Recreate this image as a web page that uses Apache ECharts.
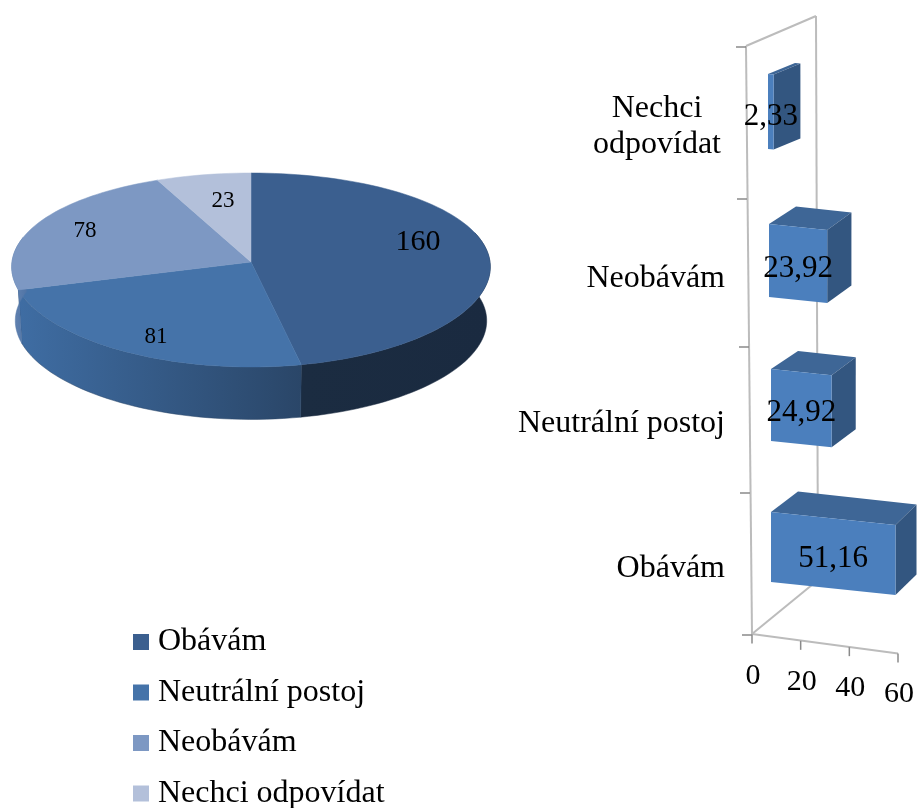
<!DOCTYPE html>
<html>
<head>
<meta charset="utf-8">
<title>Obávám</title>
<script src="https://cdn.jsdelivr.net/npm/echarts@6/dist/echarts.min.js"></script>
<style>
  html, body { margin: 0; padding: 0; background: #fff; }
  #chart { width: 917px; height: 808px; }
</style>
</head>
<body>
<div id="chart"></div>
<script>
const categories = ['Obávám', 'Neutrální postoj', 'Neobávám', 'Nechci odpovídat'];
const pieValues = [160, 81, 78, 23];
const barValues = [51.16, 24.92, 23.92, 2.33];
const xTicks = [0, 20, 40, 60];

const FONT = '"Liberation Serif", "Times New Roman", serif';

// pie look
const pieColors = ['#3b5f8f', '#4573a9', '#7d98c3', '#b3c0da'];
const pieSides = [
    ['#1a2a40', '#1b2c41'],
    ['#2a4668', '#3f6da3'],
    ['#4f74a6', '#6685b2'],
    ['#8e9bb5', '#8e9bb5']
];
const pieLabelPos = [[418, 242], [156, 337], [85, 231], [223, 201]];
const pieLabelSize = [30, 23, 23, 23];
const total = pieValues.reduce((a, b) => a + b, 0);

// circle on the table -> screen, near edge a bit larger
function piePoint(deg, depth) {
    const t = deg * Math.PI / 180;
    const u = Math.sin(t), v = -Math.cos(t);
    const s = depth ? 0.985 : 1;
    return [
        251 + 239 * s * u * (1 + 0.05 * v),
        262 + (depth || 0) + 97 * s * v * (1 + 0.0825 * v)
    ];
}

function arc(from, to, depth) {
    const pts = [];
    const n = Math.max(2, Math.ceil(Math.abs(to - from) / 2));
    for (let i = 0; i <= n; i++) {
        pts.push(piePoint(from + (to - from) * i / n, depth));
    }
    return pts;
}

function renderSlice(idx) {
    return function (params, api) {
        const start = pieValues.slice(0, idx).reduce((a, b) => a + b, 0) / total * 360;
        const end = start + api.value(0) / total * 360;
        const children = [];

        const a = Math.max(start, 72), b = Math.min(end, 285);
        if (b > a) {
            const top = arc(a, b, 0);
            const bottom = arc(b, a, 54);
            children.push({
                type: 'polygon',
                shape: { points: top.concat(bottom) },
                style: {
                    fill: new echarts.graphic.LinearGradient(0, 0, 1, 0, [
                        { offset: 0, color: pieSides[idx][1] },
                        { offset: 1, color: pieSides[idx][0] }
                    ]),
                    stroke: pieSides[idx][0],
                    lineWidth: 0.5
                }
            });
        }

        const face = [[251, 262]].concat(arc(start, end, 0));
        children.push({
            type: 'polygon',
            shape: { points: face },
            style: { fill: pieColors[idx], stroke: pieColors[idx], lineWidth: 0.5 }
        });
        children.push({
            type: 'text',
            x: pieLabelPos[idx][0],
            y: pieLabelPos[idx][1],
            style: {
                text: String(api.value(0)),
                fontFamily: FONT,
                fontSize: pieLabelSize[idx],
                fill: '#000',
                align: 'center',
                verticalAlign: 'middle'
            }
        });
        return { type: 'group', children: children };
    };
}

// bar box tweaks per row (perspective of the original)
const rowShiftX = [0, 0, -2, -3];
const rowShiftY = [0, 3, 3.5, -0.5];
const rowHeight = [70, 72, 73, 75];
const rowDepthY = [-20.5, -18, -17.5, -11];
const SKEW = 0.105;

function renderBar(params, api) {
    const row = api.value(1);
    const p0 = api.coord([0, row]);
    const p1 = api.coord([api.value(0), row]);
    const w = p1[0] - p0[0];
    const h = rowHeight[row];
    const xl = p0[0] + rowShiftX[row];
    const xr = xl + w;
    const yt = p0[1] + rowShiftY[row] - h / 2;
    const yb = yt + h;
    const drop = SKEW * w;
    const dy = rowDepthY[row];
    const dxL = 27, dxR = 27 - 0.048 * w;

    return {
        type: 'group',
        children: [
            {
                type: 'polygon',
                shape: { points: [[xl, yt], [xr, yt + drop], [xr + dxR, yt + drop + dy], [xl + dxL, yt + dy]] },
                style: { fill: '#3e6696' }
            },
            {
                type: 'polygon',
                shape: { points: [[xr, yt + drop], [xr + dxR, yt + drop + dy], [xr + dxR, yb + drop + dy], [xr, yb + drop]] },
                style: { fill: '#335680' }
            },
            {
                type: 'polygon',
                shape: { points: [[xl, yt], [xr, yt + drop], [xr, yb + drop], [xl, yb]] },
                style: { fill: '#4b7fbd' }
            },
            {
                type: 'text',
                x: xl + w / 2,
                y: (yt + yb) / 2 + drop / 2 + 5,
                z2: 10,
                style: {
                    text: api.value(0).toFixed(2).replace('.', ','),
                    fontFamily: FONT,
                    fontSize: 31,
                    fill: '#000',
                    align: 'center',
                    verticalAlign: 'middle'
                }
            }
        ]
    };
}

// walls, floor edge and the slanted value axis
const wallTickY = [47, 199, 347, 493, 635];
const wallTickX = [746, 747, 749, 750, 752];

function renderFrame(params, api) {
    const wall = { stroke: '#bcbcbc', lineWidth: 2, fill: null };
    const tick = { stroke: '#8a8a8a', lineWidth: 1.5, fill: null };
    const line = (x1, y1, x2, y2, style) => ({ type: 'line', shape: { x1, y1, x2, y2 }, style });
    const axisX = (v) => api.coord([v, 0])[0] - 19;
    const axisY = (x) => 634.5 + (x - 752) * 0.13;

    const children = [
        line(746, 46, 816, 16, wall),
        line(746, 46, 752, 634, wall),
        line(816, 16, 818, 580, wall),
        line(752, 634, 818, 580, wall),
        line(752, 634, axisX(60), axisY(axisX(60)), wall)
    ];
    wallTickY.forEach((y, i) => children.push(line(wallTickX[i] - 10, y, wallTickX[i], y, tick)));
    xTicks.forEach((v) => {
        const x = axisX(v), y = axisY(x);
        children.push(line(x, y, x, y + 9, tick));
        children.push({
            type: 'text',
            x: x + 1,
            y: y + 42 - (x - 752) * 0.008,
            style: {
                text: String(v),
                fontFamily: FONT,
                fontSize: 30,
                fill: '#000',
                align: 'center',
                verticalAlign: 'middle'
            }
        });
    });
    return { type: 'group', children: children };
}

const sliceSeries = categories.map((name, i) => ({
    name: name,
    type: 'custom',
    coordinateSystem: 'none',
    silent: true,
    itemStyle: { color: pieColors[i] },
    renderItem: renderSlice(i),
    data: [[pieValues[i]]]
}));

const chart = echarts.init(document.getElementById('chart'));
chart.setOption({
    animation: false,
    backgroundColor: '#fff',
    legend: {
        data: categories,
        orient: 'vertical',
        left: 128,
        top: 621,
        height: 187,
        icon: 'rect',
        itemWidth: 16,
        itemHeight: 16,
        itemGap: 18.5,
        itemStyle: { borderWidth: 0 },
        selectedMode: false,
        textStyle: { fontFamily: FONT, fontSize: 32, color: '#000', padding: [0, 0, 0, 4] }
    },
    grid: { left: 771, top: 39.5, width: 147, height: 580 },
    xAxis: { type: 'value', min: 0, max: 60, interval: 20, show: false },
    yAxis: {
        type: 'category',
        data: categories,
        axisLine: { show: false },
        axisTick: { show: false },
        axisLabel: {
            margin: 46,
            fontFamily: FONT,
            fontSize: 32,
            color: '#000',
            lineHeight: 36,
            padding: [43, 0, 0, 0],
            formatter: (name) => name === 'Nechci odpovídat'
                ? '{two|Nechci}\n{two|odpovídat}\n{tail| }'
                : name,
            rich: {
                two: { width: 136, align: 'center', fontFamily: FONT, fontSize: 32, lineHeight: 36 },
                tail: { fontSize: 8, lineHeight: 13 }
            }
        }
    },
    series: sliceSeries.concat([
        {
            name: 'frame',
            type: 'custom',
            silent: true,
            xAxisIndex: 0,
            yAxisIndex: 0,
            z: 1,
            renderItem: renderFrame,
            data: [[0, 0]]
        },
        {
            name: 'podíl',
            type: 'custom',
            silent: true,
            xAxisIndex: 0,
            yAxisIndex: 0,
            z: 2,
            clip: false,
            renderItem: renderBar,
            encode: { x: 0, y: 1 },
            data: barValues.map((v, i) => [v, i])
        }
    ])
});
</script>
</body>
</html>
